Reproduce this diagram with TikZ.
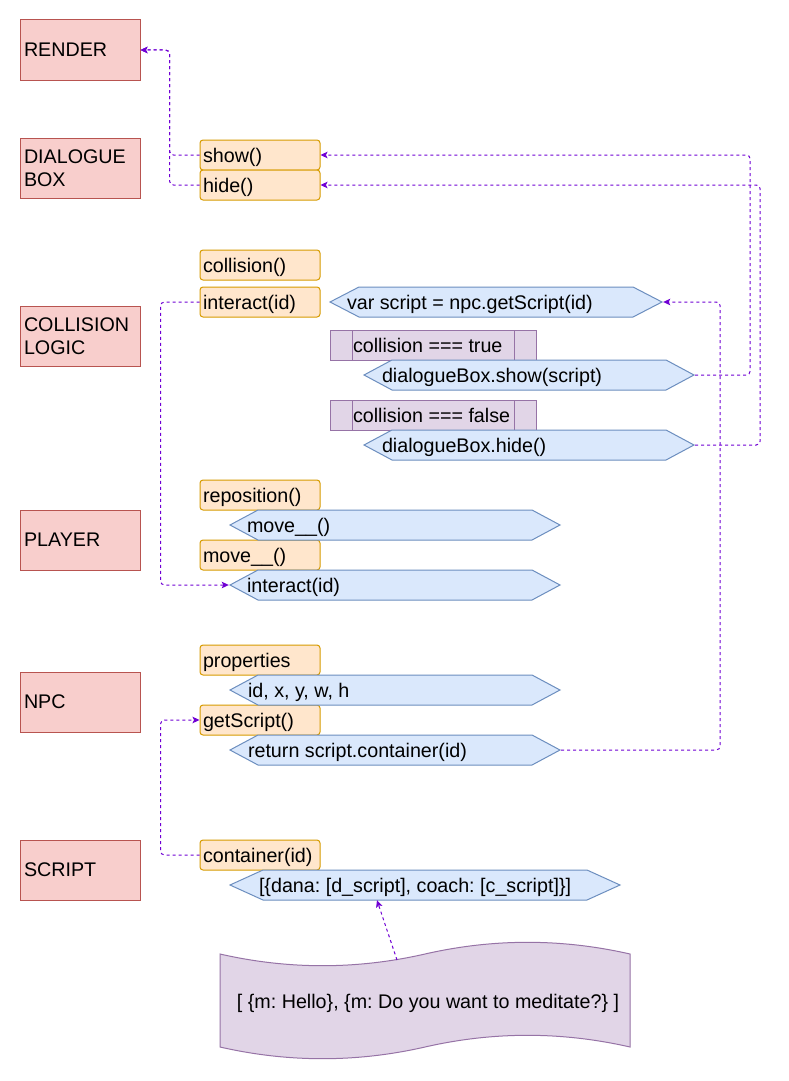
\documentclass[tikz,border=0pt]{standalone}
\usepackage{fontspec}
\setmainfont{Liberation Sans}
\usetikzlibrary{arrows.meta}
\frenchspacing
\definecolor{redfill}{HTML}{F8CECC}
\definecolor{redline}{HTML}{B85450}
\definecolor{orfill}{HTML}{FFE6CC}
\definecolor{orline}{HTML}{D79B00}
\definecolor{hexfill}{HTML}{DAE8FC}
\definecolor{hexline}{HTML}{6C8EBF}
\definecolor{purpfill}{HTML}{E1D5E7}
\definecolor{purpline}{HTML}{9673A6}
\definecolor{connc}{HTML}{7000D4}
\newcommand{\lb}[2]{\makebox[#1pt][l]{#2}}
\begin{document}
\begin{tikzpicture}[x=1pt,y=-1pt,
  font=\fontsize{19.7}{23}\selectfont,
  rbox/.style={draw=redline, fill=redfill, line width=1pt, minimum width=120pt, minimum height=60pt,
    inner xsep=4pt, inner ysep=0pt, align=left, text width=112pt},
  ofun/.style={draw=orline, fill=orfill, line width=1pt, rounded corners=3pt, minimum width=120pt,
    minimum height=30pt, inner xsep=3pt, inner ysep=0pt, text height=14pt, text depth=0pt},
  hex/.style={inner ysep=0pt, minimum height=32pt, text height=14pt, text depth=0pt,
    path picture={
      \draw[draw=hexline, fill=hexfill, line width=1pt]
        ([xshift=1pt]path picture bounding box.west)
        -- ([xshift=#1pt+1pt,yshift=-1pt]path picture bounding box.north west)
        -- ([xshift=-#1pt-1pt,yshift=-1pt]path picture bounding box.north east)
        -- ([xshift=-1pt]path picture bounding box.east)
        -- ([xshift=-#1pt-1pt,yshift=1pt]path picture bounding box.south east)
        -- ([xshift=#1pt+1pt,yshift=1pt]path picture bounding box.south west)
        -- cycle;}},
  proc/.style={draw=purpline, fill=purpfill, line width=1pt, minimum width=206pt, minimum height=30pt,
    inner xsep=23pt, inner ysep=0pt, text height=14pt, text depth=0pt,
    path picture={
      \draw[purpline, line width=1pt] ([xshift=22pt]path picture bounding box.north west) -- ([xshift=22pt]path picture bounding box.south west);
      \draw[purpline, line width=1pt] ([xshift=-22pt]path picture bounding box.north east) -- ([xshift=-22pt]path picture bounding box.south east);}},
  tapeshape/.style={draw=purpline, fill=purpfill, line width=1pt},
  tapetext/.style={inner sep=0pt, text height=14pt, text depth=0pt},
  conn/.style={draw=connc, line width=1pt, dash pattern=on 3pt off 3pt, rounded corners=4pt,
    -{Stealth[length=7pt,width=6.5pt,inset=1.5pt]}}
]
\useasboundingbox (0,0) rectangle (789,1081);
\fill[white] (0,0) rectangle (789,1081);

% left column
\node[rbox] (render) at (80,50) {RENDER};
\node[rbox] (dbox) at (80,168) {DIALOGUE\\BOX};
\node[rbox] (clogic) at (80,336) {COLLISION\\LOGIC};
\node[rbox] (player) at (80,540) {PLAYER};
\node[rbox] (npc) at (80,702) {NPC};
\node[rbox] (script) at (80,870) {SCRIPT};

% functions
\node[ofun] (show) at (260,155) {\lb{114}{show()}};
\node[ofun] (hide) at (260,185) {\lb{114}{hide()}};
\node[ofun] (collision) at (260,265) {\lb{114}{collision()}};
\node[ofun] (interact) at (260,302) {\lb{114}{interact(id)}};
\node[ofun] (reposition) at (260,495) {\lb{114}{reposition()}};
\node[ofun] (movef) at (260,555) {\lb{114}{move\_\_()}};
\node[ofun] (properties) at (260,660) {\lb{114}{properties}};
\node[ofun] (getscript) at (260,720) {\lb{114}{getScript()}};
\node[ofun] (container) at (260,855) {\lb{114}{container(id)}};

% statements
\node[hex=29, inner xsep=18pt] (vs) at (496,302) {\lb{298}{var script = npc.getScript(id)}};
\node[proc] (ctrue) at (433,345) {\lb{160}{collision === true}};
\node[hex=28, inner xsep=19pt] (dshow) at (529,375) {\lb{294}{dialogueBox.show(script)}};
\node[proc] (cfalse) at (433,415) {\lb{160}{collision === false}};
\node[hex=28, inner xsep=19pt] (dhide) at (529,445) {\lb{294}{dialogueBox.hide()}};
\node[hex=28, inner xsep=18pt] (mv) at (395,525) {\lb{296}{move\_\_()}};
\node[hex=28, inner xsep=18pt] (ia) at (395,585) {\lb{296}{interact(id)}};
\node[hex=28, inner xsep=19pt] (props) at (395,690) {\lb{294}{id, x, y, w, h}};
\node[hex=28, inner xsep=19pt] (ret) at (395,750) {\lb{294}{return script.container(id)}};
\node[hex=33, inner xsep=30pt] (dana) at (425,885) {\lb{332}{[\{dana: [d\_script], coach: [c\_script]\}]}};

% tape
\draw[tapeshape] (220,954) .. controls (288.3,969.6) and (356.7,969.6) .. (425,954)
  .. controls (493.3,938.4) and (561.7,938.4) .. (630,954)
  -- (630,1047) .. controls (561.7,1031.4) and (493.3,1031.4) .. (425,1047)
  .. controls (356.7,1062.6) and (288.3,1062.6) .. (220,1047) -- cycle;
\coordinate (tapetop) at (397,960);
\node[tapetext] (tape) at (425,1001) {\hspace*{6pt}[ \{m: Hello\}, \{m: Do you want to meditate?\} ]};

% connectors
\draw[conn] (show.west) -- ++(-30,0) |- (render.east);
\draw[conn] (hide.west) -- ++(-30,0) |- (render.east);
\draw[conn] (dshow.east) -- ++(55,0) |- (show.east);
\draw[conn] (dhide.east) -- ++(65,0) |- (hide.east);
\draw[conn] (ret.east) -- ++(159,0) |- (vs.east);
\draw[conn] (interact.west) -- ++(-39,0) |- (ia.west);
\draw[conn] (container.west) -- ++(-39,0) |- (getscript.west);
\draw[conn] (tapetop) -- ([xshift=-48pt,yshift=1pt]dana.south);
\end{tikzpicture}
\end{document}
